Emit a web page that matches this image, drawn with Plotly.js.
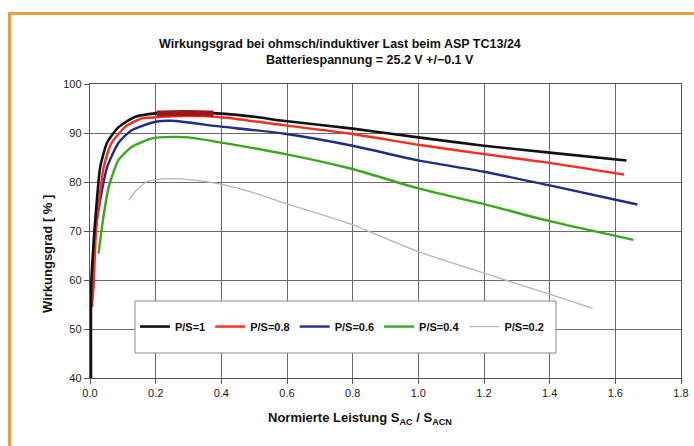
<!DOCTYPE html>
<html>
<head>
<meta charset="utf-8">
<script src="https://cdn.plot.ly/plotly-3.0.1.min.js"></script>
<style>
  html, body { margin: 0; padding: 0; background: #fff; }
  #wrap { position: relative; width: 694px; height: 446px; }
  #chart { width: 694px; height: 446px; }
  #frame { position: absolute; left: 8px; top: 12px; right: 0; bottom: 0;
           border-top: 3px solid #f39a3c; border-left: 3px solid #f39a3c; pointer-events: none; }
</style>
</head>
<body>
<div id="wrap">
  <div id="chart"></div>
  <div id="frame"></div>
</div>
<script>
// ---- data ----
const ps1_x = [0.003, 0.004, 0.013, 0.021, 0.031, 0.052, 0.087, 0.138, 0.2, 0.3, 0.386, 0.5, 0.588, 0.8, 1.0, 1.2, 1.4, 1.634];
const ps1_y = [40, 59.4, 69.6, 76.3, 83.0, 88.0, 91.2, 93.3, 94.0, 94.2, 94.0, 93.3, 92.5, 90.9, 89.1, 87.4, 86.0, 84.4];

const ps08_x = [0.006, 0.011, 0.018, 0.028, 0.042, 0.065, 0.108, 0.158, 0.2, 0.3, 0.4, 0.588, 0.79, 1.0, 1.2, 1.4, 1.627];
const ps08_y = [54.5, 59.4, 69.6, 76.3, 83.1, 87.9, 91.3, 93.0, 93.2, 93.5, 93.2, 91.6, 89.9, 87.6, 85.7, 83.9, 81.5];

const ps08hl_x = [0.203, 0.29, 0.376];
const ps08hl_y = [94.0, 94.1, 94.0];

const ps06_x = [0.01, 0.016, 0.031, 0.052, 0.087, 0.128, 0.2, 0.25, 0.386, 0.588, 0.8, 1.0, 1.2, 1.4, 1.667];
const ps06_y = [58.0, 69.6, 76.3, 83.0, 88.0, 90.6, 92.3, 92.5, 91.4, 89.9, 87.4, 84.4, 82.1, 79.3, 75.4];

const ps04_x = [0.026, 0.04, 0.057, 0.087, 0.128, 0.189, 0.25, 0.3, 0.386, 0.588, 0.79, 1.0, 1.2, 1.4, 1.655];
const ps04_y = [65.4, 72.5, 79.0, 84.5, 87.2, 88.9, 89.2, 89.1, 88.2, 85.8, 82.8, 78.7, 75.5, 72.0, 68.2];

const ps02_x = [0.118, 0.14, 0.174, 0.2, 0.25, 0.3, 0.386, 0.5, 0.588, 0.79, 1.0, 1.2, 1.4, 1.531];
const ps02_y = [76.3, 78.2, 80.1, 80.5, 80.7, 80.5, 79.7, 77.8, 75.8, 71.5, 65.8, 61.4, 57.1, 54.2];

const xTicks = [0, 0.2, 0.4, 0.6, 0.8, 1.0, 1.2, 1.4, 1.6, 1.8];
const yTicks = [40, 50, 60, 70, 80, 90, 100];

const titleLine1 = 'Wirkungsgrad bei ohmsch/induktiver Last beim ASP TC13/24';
const titleLine2 = 'Batteriespannung = 25.2 V +/\u22120.1 V';
const xTitle = 'Normierte Leistung S<sub>AC</sub> / S<sub>ACN</sub>';
const yTitle = 'Wirkungsgrad [ % ]';

const FONT = 'Liberation Sans, Arial, sans-serif';

function line(x, y, name, color, width, extra) {
  return Object.assign({
    type: 'scatter', mode: 'lines', x: x, y: y, name: name,
    line: { color: color, width: width, shape: 'spline', smoothing: 0.6 },
    hoverinfo: 'skip'
  }, extra || {});
}

const traces = [
  line(ps02_x, ps02_y, 'P/S=0.2', '#b9b6a8', 1.3),
  line(ps04_x, ps04_y, 'P/S=0.4', '#3aa81c', 2.4),
  line(ps06_x, ps06_y, 'P/S=0.6', '#1f2b8e', 2.4),
  line(ps08_x, ps08_y, 'P/S=0.8', '#ff2b1c', 2.4),
  line(ps1_x, ps1_y, 'P/S=1', '#111111', 2.6),
  line(ps08hl_x, ps08hl_y, 'P/S=0.8 ', '#a01616', 6, { showlegend: false })
];

const axisCommon = {
  showgrid: true, gridcolor: '#6a6a6a', gridwidth: 1,
  showline: true, linecolor: '#555', linewidth: 1.2, mirror: true,
  ticks: 'outside', ticklen: 5, tickcolor: '#555',
  tickfont: { family: FONT, size: 11, color: '#222' },
  zeroline: false, fixedrange: true
};

const layout = {
  width: 694, height: 446,
  margin: { l: 90, r: 13, t: 84, b: 68 },
  paper_bgcolor: '#ffffff', plot_bgcolor: '#ffffff',
  showlegend: true,
  xaxis: Object.assign({}, axisCommon, {
    range: [0, 1.8], tickvals: xTicks, tickformat: '.1f'
  }),
  yaxis: Object.assign({}, axisCommon, {
    range: [40, 100], tickvals: yTicks
  }),
  legend: {
    orientation: 'h', traceorder: 'reversed',
    x: 0.076, xanchor: 'left', y: 0.175, yanchor: 'middle',
    bgcolor: 'rgba(0,0,0,0)', borderwidth: 0,
    font: { family: FONT, size: 11, color: '#111', weight: 700 },
    itemwidth: 30, tracegroupgap: 0
  },
  shapes: [{
    type: 'rect', xref: 'paper', yref: 'paper', layer: 'above',
    x0: (135 - 90) / 591, x1: (556 - 90) / 591,
    y0: 1 - (353 - 84) / 294, y1: 1 - (301 - 84) / 294,
    fillcolor: '#ffffff', line: { color: '#8a8a8a', width: 1 }
  }],
  annotations: [
    { text: '<b>' + titleLine1 + '</b>', xref: 'paper', yref: 'paper',
      x: (340 - 90) / 591, y: 1 + (84 - 44) / 294, xanchor: 'center', yanchor: 'middle',
      showarrow: false, font: { family: FONT, size: 12.5, color: '#111' } },
    { text: '<b>' + titleLine2 + '</b>', xref: 'paper', yref: 'paper',
      x: (370 - 90) / 591, y: 1 + (84 - 60) / 294, xanchor: 'center', yanchor: 'middle',
      showarrow: false, font: { family: FONT, size: 12.5, color: '#111' } },
    { text: '<b>' + xTitle + '</b>', xref: 'paper', yref: 'paper',
      x: (360 - 90) / 591, y: -(418 - 378) / 294, xanchor: 'center', yanchor: 'middle',
      showarrow: false, font: { family: FONT, size: 13, color: '#111' } },
    { text: '<b>' + yTitle + '</b>', xref: 'paper', yref: 'paper', textangle: -90,
      x: (47 - 90) / 591, y: 1 - (254 - 84) / 294, xanchor: 'center', yanchor: 'middle',
      showarrow: false, font: { family: FONT, size: 13, color: '#111' } }
  ]
};

Plotly.newPlot('chart', traces, layout, { staticPlot: true, displayModeBar: false });
</script>
</body>
</html>
